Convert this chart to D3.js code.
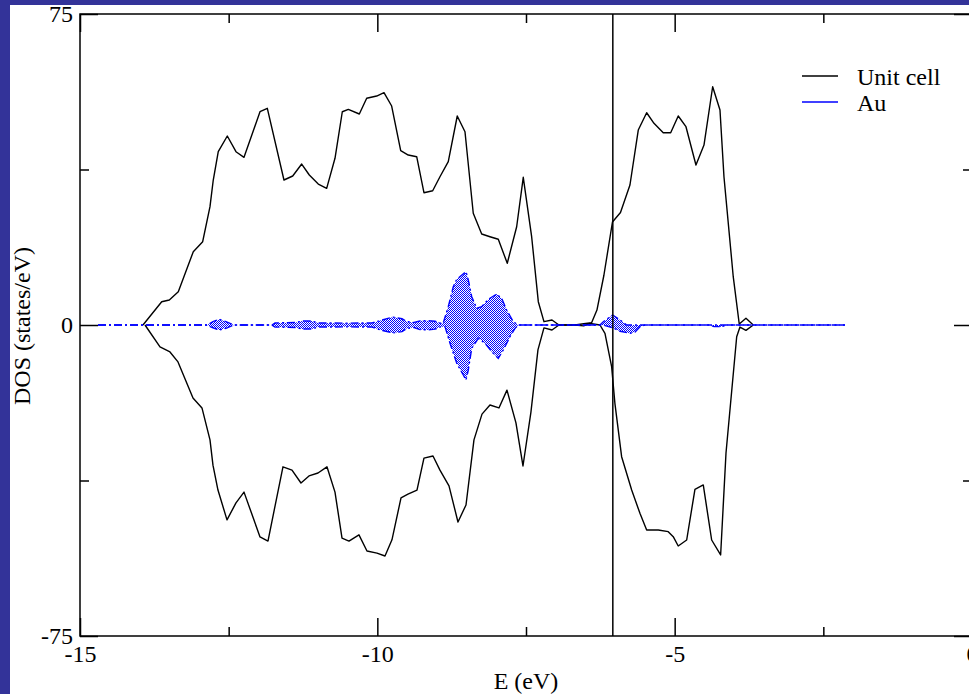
<!DOCTYPE html>
<html>
<head>
<meta charset="utf-8">
<script src="https://cdn.jsdelivr.net/npm/d3@7"></script>
<style>
  html, body { margin: 0; padding: 0; background: #333399; }
  svg { display: block; }
  text { font-family: "Liberation Serif", "Times New Roman", serif; fill: #000; }
</style>
</head>
<body>
<svg id="chart" width="969" height="694"></svg>
<script>
// Total DOS of the unit cell (spin up > 0, spin down < 0), energies in eV
const upE = [-13.941, -13.626, -13.498, -13.347, -13.095, -12.937, -12.814, -12.759, -12.675, -12.523,
  -12.377, -12.242, -11.973, -11.850, -11.570, -11.423, -11.272, -11.144, -10.993, -10.852,
  -10.712, -10.589, -10.488, -10.303, -10.179, -10.011, -9.888, -9.759, -9.607, -9.480,
  -9.338, -9.216, -9.069, -8.947, -8.807, -8.656, -8.526, -8.387, -8.245, -8.106,
  -7.966, -7.815, -7.657, -7.546, -7.405, -7.293, -7.198, -7.063, -6.946, -6.676,
  -6.530, -6.397, -6.307, -6.190, -6.046, -5.911, -5.752, -5.612, -5.471, -5.348,
  -5.192, -5.067, -4.940, -4.810, -4.642, -4.507, -4.361, -4.238, -4.171, -4.015,
  -3.914, -3.801, -3.678];
const upDos = [0, 5.62, 6.03, 8.03, 17.68, 20.09, 28.53, 34.96, 41.79, 45.58,
  41.79, 40.44, 51.43, 52.25, 34.97, 35.93, 38.82, 36.17, 34.0, 32.96,
  40.2, 51.43, 52.01, 50.88, 54.67, 55.22, 56.02, 52.81, 42.03, 40.99,
  40.58, 31.9, 32.38, 35.76, 39.38, 50.4, 46.61, 26.94, 21.94, 21.29,
  20.67, 14.88, 23.7, 35.62, 21.29, 5.62, 0.8, 1.2, 0, 0,
  0.3, 0.55, 3.6, 12.0, 24.84, 27.13, 33.76, 47.02, 51.19, 48.64,
  46.37, 46.37, 50.4, 47.82, 38.58, 43.4, 57.46, 51.84, 35.76, 11.65,
  0.24, 1.62, 0];

const dnE = [-13.907, -13.655, -13.487, -13.352, -13.100, -12.949, -12.814, -12.764, -12.680, -12.528,
  -12.377, -12.242, -11.973, -11.839, -11.587, -11.435, -11.284, -11.149, -10.998, -10.847,
  -10.712, -10.594, -10.477, -10.309, -10.174, -10.006, -9.871, -9.754, -9.602, -9.485,
  -9.333, -9.216, -9.064, -8.947, -8.795, -8.644, -8.509, -8.375, -8.240, -8.106,
  -7.955, -7.820, -7.669, -7.551, -7.417, -7.299, -7.198, -7.063, -6.946, -6.676,
  -6.530, -6.424, -6.256, -6.172, -6.060, -6.005, -5.892, -5.723, -5.584, -5.471,
  -5.276, -5.108, -5.024, -4.940, -4.798, -4.659, -4.519, -4.378, -4.227, -4.137,
  -3.957, -3.902, -3.801, -3.678];
const dnDos = [0, -5.3, -6.5, -8.9, -17.6, -20.0, -27.7, -33.8, -39.8, -47.0,
  -42.9, -40.3, -51.1, -52.1, -34.2, -35.0, -38.1, -36.4, -35.7, -34.2,
  -40.3, -51.4, -52.1, -50.6, -54.5, -55.0, -55.7, -51.8, -41.7, -40.8,
  -39.8, -32.1, -31.6, -35.0, -38.8, -47.5, -43.4, -27.7, -21.5, -19.3,
  -20.0, -15.7, -23.6, -34.0, -21.0, -6.0, -0.7, -1.2, 0, 0,
  -0.2, 0.36, 0, -2.0, -10.06, -18.88, -31.76, -39.79, -45.41, -49.43,
  -49.43, -49.84, -51.05, -53.29, -51.85, -39.62, -38.58, -51.85, -55.46, -30.94,
  -2.82, -0.5, -1.3, 0];

// Projected DOS on Au (spin up / spin down)
const auUpE = [-14.697, -12.864, -12.764, -12.658, -12.545, -12.410, -11.771, -11.721, -11.368, -11.267,
  -11.099, -10.998, -10.544, -10.090, -9.922, -9.737, -9.585, -9.501, -9.383, -9.283,
  -9.165, -9.030, -8.929, -8.896, -8.807, -8.723, -8.665, -8.509, -8.470, -8.413,
  -8.329, -8.245, -8.134, -7.993, -7.909, -7.825, -7.714, -7.630, -6.256, -6.200,
  -6.042, -5.919, -5.807, -2.136];
const auUpDos = [0, 0, 0.8, 1.37, 0.8, 0, 0, 0.5, 0.6, 0.95,
  0.95, 0.5, 0.45, 0.5, 1.2, 1.9, 1.5, 0.8, 0.6, 1.0,
  1.05, 0.9, 0.4, 0.3, 4.42, 9.24, 11.01, 12.86, 10.85, 6.83,
  4.02, 4.42, 6.19, 7.47, 6.43, 3.62, 0.8, 0, 0, 0.8,
  2.41, 1.2, 0, 0];

const auDnE = [-14.697, -12.864, -12.764, -12.658, -12.545, -12.410, -11.771, -11.721, -11.368, -11.267,
  -11.099, -10.998, -10.544, -10.090, -9.922, -9.737, -9.585, -9.501, -9.383, -9.283,
  -9.165, -9.030, -8.929, -8.862, -8.778, -8.665, -8.554, -8.509, -8.470, -8.413,
  -8.302, -8.190, -8.077, -7.966, -7.882, -7.769, -7.685, -7.630, -6.205, -6.054,
  -5.919, -5.751, -5.667, -5.583, -5.499, -4.406, -4.339, -4.204, -4.137, -2.136];
const auDnDos = [0, 0, -0.7, -1.2, -0.8, 0, 0, -0.5, -0.6, -0.95,
  -0.95, -0.5, -0.45, -0.5, -1.3, -1.9, -1.6, -0.8, -0.6, -1.1,
  -1.2, -1.0, -0.4, -0.4, -4.42, -9.24, -12.06, -13.26, -10.85, -5.62,
  -3.21, -4.42, -6.43, -8.03, -6.03, -2.82, -0.8, 0, 0, -0.6,
  -1.5, -2.0, -1.7, -0.4, 0, 0, -0.4, -0.4, 0, 0];

const fermiE = -6.04;

const xMajor = [-15, -10, -5, 0];
const xMinor = [-12.5, -7.5, -2.5];
const yMajor = [-75, 0, 75];
const yMinor = [-37.5, 37.5];

const seriesNames = ["Unit cell", "Au"];
const seriesColors = ["#000000", "#0000ff"];

(function draw() {
  const svg = d3.select("#chart");
  const W = 969, H = 694;

  // white page area inside the blue border
  svg.append("rect").attr("x", 10).attr("y", 5).attr("width", W - 10).attr("height", H - 5).attr("fill", "#fff");

  // stipple fill for the Au projection
  const defs = svg.append("defs");
  const pat = defs.append("pattern").attr("id", "stipple")
    .attr("width", 2).attr("height", 2).attr("patternUnits", "userSpaceOnUse");
  pat.append("rect").attr("width", 2).attr("height", 2).attr("fill", "#ffffff");
  pat.append("rect").attr("x", 0).attr("y", 0).attr("width", 1).attr("height", 1).attr("fill", "#0000ff");
  pat.append("rect").attr("x", 1).attr("y", 1).attr("width", 1).attr("height", 1).attr("fill", "#0000ff");

  const pLeft = 80, pRight = 972, pTop = 14, pBottom = 636;
  const x = d3.scaleLinear().domain([-15, 0]).range([pLeft, pRight]);
  const y = d3.scaleLinear().domain([-75, 75]).range([pBottom, pTop]);

  const zip = (es, vs) => es.map((e, i) => [e, vs[i]]);
  const line = d3.line().x(d => x(d[0])).y(d => y(d[1]));
  const area = d3.area().x(d => x(d[0])).y0(y(0)).y1(d => y(d[1]));

  const plot = svg.append("g");

  // Au filled areas
  [zip(auUpE, auUpDos), zip(auDnE, auDnDos)].forEach(d => {
    plot.append("path").datum(d).attr("d", area)
      .attr("fill", "url(#stipple)").attr("stroke", "none");
  });

  // total DOS
  [zip(upE, upDos), zip(dnE, dnDos)].forEach(d => {
    plot.append("path").datum(d).attr("d", line)
      .attr("fill", "none").attr("stroke", seriesColors[0]).attr("stroke-width", 1.4)
      .attr("stroke-linejoin", "round");
  });

  // Au outline, dash-dot
  [zip(auUpE, auUpDos), zip(auDnE, auDnDos)].forEach(d => {
    plot.append("path").datum(d).attr("d", line)
      .attr("fill", "none").attr("stroke", seriesColors[1]).attr("stroke-width", 1.4)
      .attr("stroke-dasharray", "8,3,2,3");
  });

  // Fermi level
  plot.append("line")
    .attr("x1", x(fermiE)).attr("x2", x(fermiE))
    .attr("y1", y(75)).attr("y2", y(-75))
    .attr("stroke", "#000").attr("stroke-width", 1.5);

  // axes with inward ticks; labels use a plain hyphen for negatives
  const fs = 24;
  const fmt = d => String(d);
  function styleAxis(g) {
    g.select(".domain").remove();
    g.selectAll(".tick line").attr("stroke", "#000").attr("stroke-width", 1.5);
    g.selectAll(".tick text").attr("font-size", fs).attr("font-family", "Liberation Serif").attr("fill", "#000");
  }
  svg.append("g").attr("transform", `translate(0,${pBottom})`)
    .call(d3.axisBottom(x).tickValues(xMajor).tickSize(-18).tickPadding(9).tickFormat(fmt))
    .call(styleAxis);
  svg.append("g").attr("transform", `translate(0,${pBottom})`)
    .call(d3.axisBottom(x).tickValues(xMinor).tickSize(-9).tickFormat(""))
    .call(styleAxis);
  svg.append("g").attr("transform", `translate(0,${pTop})`)
    .call(d3.axisTop(x).tickValues(xMajor).tickSize(-18).tickFormat(""))
    .call(styleAxis);
  svg.append("g").attr("transform", `translate(0,${pTop})`)
    .call(d3.axisTop(x).tickValues(xMinor).tickSize(-9).tickFormat(""))
    .call(styleAxis);
  svg.append("g").attr("transform", `translate(${pLeft},0)`)
    .call(d3.axisLeft(y).tickValues(yMajor).tickSize(-18).tickPadding(7).tickFormat(fmt))
    .call(styleAxis);
  svg.append("g").attr("transform", `translate(${pLeft},0)`)
    .call(d3.axisLeft(y).tickValues(yMinor).tickSize(-9).tickFormat(""))
    .call(styleAxis);
  svg.append("g").attr("transform", `translate(${pRight},0)`)
    .call(d3.axisRight(y).tickValues(yMajor).tickSize(-18).tickFormat(""))
    .call(styleAxis);
  svg.append("g").attr("transform", `translate(${pRight},0)`)
    .call(d3.axisRight(y).tickValues(yMinor).tickSize(-9).tickFormat(""))
    .call(styleAxis);

  // frame
  svg.append("rect").attr("x", pLeft).attr("y", pTop)
    .attr("width", pRight - pLeft).attr("height", pBottom - pTop)
    .attr("fill", "none").attr("stroke", "#000").attr("stroke-width", 1.5);

  // axis titles
  svg.append("text").attr("x", (pLeft + pRight) / 2).attr("y", 689)
    .attr("text-anchor", "middle").attr("font-size", fs).text("E (eV)");
  svg.append("text").attr("transform", "translate(30,326) rotate(-90)")
    .attr("text-anchor", "middle").attr("font-size", fs).text("DOS (states/eV)");

  // legend
  const legend = svg.append("g");
  seriesNames.forEach((name, i) => {
    const ly = 76 + i * 26;
    legend.append("line").attr("x1", 802).attr("x2", 838).attr("y1", ly).attr("y2", ly)
      .attr("stroke", seriesColors[i]).attr("stroke-width", 1.4);
    legend.append("text").attr("x", 857).attr("y", ly + 9).attr("font-size", fs).text(name);
  });
})();
</script>
</body>
</html>
